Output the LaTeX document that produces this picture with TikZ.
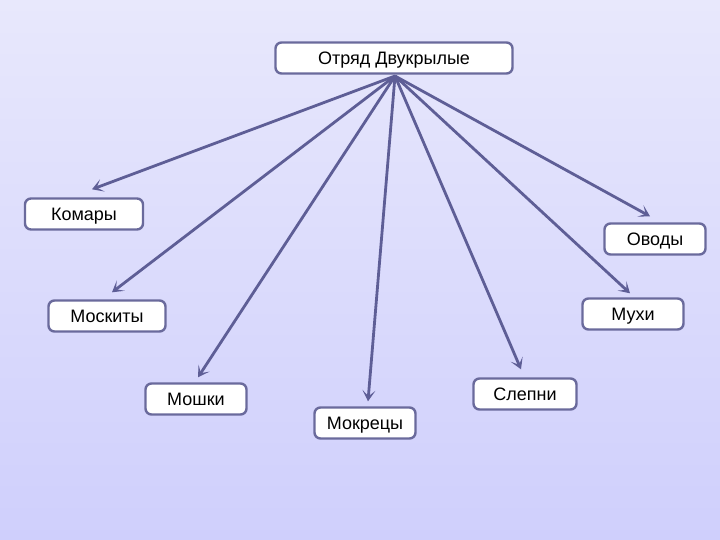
\documentclass[tikz,border=0pt]{standalone}
\usepackage{fontspec}
\setmainfont{Liberation Sans}
\usetikzlibrary{arrows.meta, positioning}
\definecolor{mylinecol}{HTML}{5E5E96}
\definecolor{myboxcol}{HTML}{6A6A9C}
\definecolor{mybgtop}{HTML}{E8E8FC}
\definecolor{mybgbot}{HTML}{CFCFFC}
\tikzset{
	taxonbox/.style={draw=myboxcol, line width=2.4pt, fill=white, rounded corners=6pt,
		minimum height=31pt, inner sep=0pt, text height=15pt, text depth=2pt,
		font=\fontsize{18}{21}\selectfont}
}
\tikzset{
	linkarrow/.style={draw=mylinecol, line width=2.8pt,
		-{Stealth[length=11pt, width=13pt, inset=6pt]}}
}

\begin{document}
\begin{tikzpicture}[x=1pt, y=-1pt]
      \shade[top color=mybgtop, bottom color=mybgbot] (0,0) rectangle (720,540);
      \useasboundingbox (0,0) rectangle (720,540);
      % order node and the common start point
      \node[taxonbox, minimum width=237pt] (order) at (394,58) {Отряд Двукрылые};
      \coordinate (hub) at (395,76);
      % families
      \foreach \n/\x/\y/\w/\t in {
        komary/84/214/118/Комары, moskity/107/316/117/Москиты,
        moshki/196/399/101/Мошки, mokrecy/365/423/101/Мокрецы,
        slepni/525/394/103/Слепни, muhi/633/314/101/Мухи,
        ovody/655/239/101/Оводы}
        \node[taxonbox, minimum width=\w pt] (\n) at (\x,\y) {\t};
      % arrows end a little above each box
      \foreach \n/\dx/\dy in {
        komary/8/8, moskity/5/7, moshki/2/5, mokrecy/3/5,
        slepni/-4/8, muhi/-3/4, ovody/-5/6}
        \draw[linkarrow] (hub) -- ([xshift=\dx pt, yshift=\dy pt]\n.north);
    \end{tikzpicture}
\end{document}
